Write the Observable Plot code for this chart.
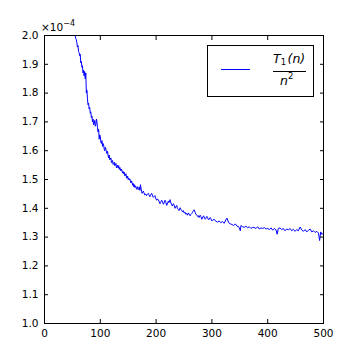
<!DOCTYPE html>
<html>
<head>
<meta charset="utf-8">
<script src="https://cdn.jsdelivr.net/npm/d3@7"></script>
<script src="https://cdn.jsdelivr.net/npm/@observablehq/plot@0.6"></script>
<style>
  html, body { margin: 0; padding: 0; background: #fff; }
  #chart { width: 360px; height: 360px; }
</style>
</head>
<body>
<div id="chart"></div>
<script>
// n values (x) and T1(n)/n^2 in units of 1e-4 (y) in segments
const nA = [55,56,57,58,59,60,61,62,63,64,65,66,67,68,69,70,71,72,73,74,75,76,77,78,79,80,81,82,83,84,85,86,87,88,89,90,91,92,93,94,95,96,97,98,99,100,101,102,103,104,105,106,107,108,109,110,111,112];
const vA = [2.000,1.990,1.985,1.975,1.960,1.965,1.945,1.940,1.930,1.935,1.905,1.910,1.890,1.895,1.870,1.880,1.860,1.875,1.850,1.870,1.800,1.810,1.780,1.760,1.765,1.745,1.750,1.730,1.735,1.715,1.720,1.700,1.710,1.690,1.695,1.705,1.685,1.690,1.710,1.700,1.680,1.665,1.675,1.640,1.655,1.650,1.630,1.625,1.635,1.615,1.625,1.620,1.605,1.600,1.612,1.605,1.595,1.590];
const nB = [113,114,115,116,117,118,119,120,121,122,123,124,125,126,127,128,129,130,131,132,133,134,135,136,137,138,139,140,141,142,143,144,145,146,147,148,149,150,151,152,153,154,155,156,157,158,159,160,161,162,163,164,165,166,167,168,169,170,171,172,173,174,175];
const vB = [1.598,1.582,1.575,1.585,1.568,1.570,1.575,1.558,1.560,1.566,1.552,1.555,1.560,1.548,1.550,1.556,1.540,1.545,1.550,1.540,1.548,1.535,1.542,1.537,1.530,1.536,1.530,1.522,1.528,1.520,1.525,1.512,1.515,1.520,1.505,1.505,1.512,1.500,1.505,1.498,1.502,1.495,1.488,1.495,1.490,1.480,1.486,1.475,1.482,1.472,1.478,1.474,1.466,1.470,1.475,1.465,1.468,1.474,1.462,1.482,1.470,1.458,1.452];
const nC = [177,178,180,181,183,184,186,187,189,190,192,193,195,196,198,199,201,202,204,205,207,208,210,211,213,214,216,217,219,220,222,223,225,226,228,229,231,232,234,235,237,238,240,241,243,244,246,247,249,250,252,253,255,256,258,259,261,262,264,265,267,268,270,271,273,274,276,277,279,280,282,283,285,286,288,289,291,292,294,295,297,298,300,301];
const vC = [1.460,1.455,1.446,1.450,1.444,1.448,1.452,1.447,1.440,1.445,1.452,1.448,1.438,1.440,1.444,1.436,1.428,1.432,1.430,1.425,1.416,1.420,1.428,1.425,1.414,1.418,1.428,1.424,1.410,1.415,1.425,1.420,1.430,1.422,1.412,1.408,1.416,1.412,1.400,1.404,1.410,1.400,1.396,1.392,1.402,1.398,1.392,1.388,1.392,1.384,1.386,1.380,1.382,1.376,1.384,1.380,1.374,1.378,1.382,1.385,1.392,1.395,1.386,1.380,1.376,1.372,1.374,1.368,1.376,1.372,1.362,1.366,1.374,1.370,1.362,1.365,1.372,1.368,1.360,1.362,1.368,1.364,1.356,1.358];
const nD = [304,307,310,313,316,319,322,325,327,330,333,336,339,342,345,348,351,352,355,358,361,364,367,370,373,376,379,382,385,388,391,394,397,400,403,406,409,412,415,417,419,422,425,428,431,434,437,440,443,446,449,452,455,458,461,464,467,470,473,476,479,482,485,488,491,493,495,497,500];
const vD = [1.362,1.355,1.352,1.356,1.350,1.354,1.348,1.360,1.366,1.350,1.346,1.344,1.340,1.346,1.338,1.336,1.322,1.340,1.336,1.334,1.338,1.332,1.336,1.330,1.334,1.333,1.330,1.336,1.328,1.332,1.330,1.333,1.328,1.330,1.326,1.332,1.324,1.330,1.325,1.310,1.330,1.332,1.326,1.330,1.322,1.328,1.325,1.330,1.322,1.327,1.320,1.326,1.322,1.335,1.325,1.320,1.326,1.318,1.324,1.328,1.318,1.322,1.316,1.320,1.314,1.288,1.318,1.310,1.312];
const xTicks = [0,100,200,300,400,500];
const yTicks = [1.0,1.1,1.2,1.3,1.4,1.5,1.6,1.7,1.8,1.9,2.0];
const seriesLabel = ["T", "1", "(n)", "n", "2"];

const ns = nA.concat(nB, nC, nD);
const vals = vA.concat(vB, vC, vD);
const data = ns.map((n, i) => ({n, v: vals[i]}));
const fmtY = d3.format(".1f");

const plot = Plot.plot({
  width: 360,
  height: 360,
  marginLeft: 44,
  marginRight: 37,
  marginTop: 35,
  marginBottom: 37,
  style: {fontFamily: "DejaVu Sans", fontSize: "10.5px", color: "#000", background: "#fff", overflow: "visible"},
  x: {domain: [0, 500]},
  y: {domain: [1.0, 2.0]},
  marks: [
    Plot.lineY(data, {x: "n", y: "v", stroke: "#0000ff", strokeWidth: 1, clip: true}),
    Plot.axisX({ticks: xTicks, tickSize: 0, tickPadding: 6, label: null, tickFormat: d => String(d)}),
    Plot.axisX({ticks: xTicks, tickSize: -4, tickFormat: () => "", label: null}),
    Plot.axisX({anchor: "top", ticks: xTicks, tickSize: -4, tickFormat: () => "", label: null}),
    Plot.axisY({ticks: yTicks, tickSize: 0, tickPadding: 6, tickFormat: fmtY, label: null}),
    Plot.axisY({ticks: yTicks, tickSize: -4, tickFormat: () => "", label: null}),
    Plot.axisY({anchor: "right", ticks: yTicks, tickSize: -4, tickFormat: () => "", label: null}),
    Plot.frame({stroke: "#000", strokeWidth: 1})
  ]
});

const svg = d3.select(plot);
// offset multiplier label
const off = svg.append("text")
  .attr("x", 41).attr("y", 31).attr("text-anchor", "start")
  .attr("font-family", "DejaVu Sans").attr("font-size", 10.5).attr("fill", "#000");
off.append("tspan").text("×10");
off.append("tspan").attr("font-size", 8).attr("dy", -5).text("−4");

// legend
const lg = svg.append("g").attr("text-anchor", "start");
lg.append("rect").attr("x", 207.5).attr("y", 45.5).attr("width", 106).attr("height", 51)
  .attr("fill", "#fff").attr("stroke", "#000").attr("stroke-width", 1);
lg.append("line").attr("x1", 221).attr("x2", 250).attr("y1", 69.5).attr("y2", 69.5)
  .attr("stroke", "#0000ff").attr("stroke-width", 1);
const num = lg.append("text").attr("x", 273).attr("y", 63)
  .attr("font-family", "DejaVu Sans").attr("font-size", 12.5).attr("fill", "#000");
num.append("tspan").attr("font-style", "italic").text(seriesLabel[0]);
num.append("tspan").attr("font-size", 8.5).attr("dy", 2).text(seriesLabel[1]);
num.append("tspan").attr("dy", -2).attr("dx", 1.5).attr("font-style", "italic").text(seriesLabel[2]);
lg.append("line").attr("x1", 273).attr("x2", 306).attr("y1", 71.5).attr("y2", 71.5)
  .attr("stroke", "#000").attr("stroke-width", 1);
const den = lg.append("text").attr("x", 280).attr("y", 85)
  .attr("font-family", "DejaVu Sans").attr("font-size", 12.5).attr("fill", "#000");
den.append("tspan").attr("font-style", "italic").text(seriesLabel[3]);
den.append("tspan").attr("font-size", 8.5).attr("dy", -6).text(seriesLabel[4]);

document.getElementById("chart").appendChild(plot);
</script>
</body>
</html>
